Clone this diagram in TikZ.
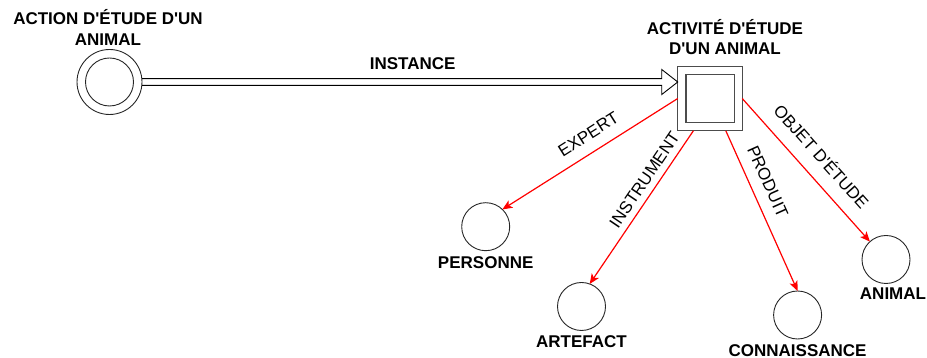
\documentclass[tikz,border=0pt]{standalone}
\usepackage{fontspec}
\setmainfont{Liberation Sans}
\usetikzlibrary{arrows.meta,calc}
\begin{document}
\begin{tikzpicture}[x=1pt,y=1pt,
  circ/.style={circle,draw=black!85,line width=0.9pt,inner sep=0pt,outer sep=0pt,minimum size=#1},
  sq/.style={rectangle,draw=black!70,line width=1.3pt,inner sep=0pt,outer sep=0pt,minimum size=#1},
  ttl/.style={font=\fontsize{17}{20.5}\selectfont\bfseries,align=center,inner sep=0pt,anchor=south},
  lbl/.style={font=\fontsize{17}{20}\selectfont\bfseries,inner sep=0pt,anchor=base},
  elbl/.style={font=\fontsize{17}{20}\selectfont,inner sep=0pt,sloped},
  rel/.style={draw=red,line width=1.2pt,-{Stealth[length=10pt,width=8.5pt,inset=2.5pt]}},
  inst/.style={draw=black,line width=0.9pt,line join=miter}]
\useasboundingbox (0,0) rectangle (927,358);
% nodes
\node[circ=65pt] (action) at (109.5,276) {};
\node[circ=48pt] (actionIn) at (action) {};
\node[sq=64.5pt] (activity) at (710,259.5) {};
\node[sq=48.3pt] (activityIn) at (activity) {};
\node[circ=48pt] (personne) at (485.7,131.3) {};
\node[circ=48pt] (artefact) at (581.5,51.5) {};
\node[circ=48pt] (connaissance) at (797.6,43) {};
\node[circ=48pt] (animal) at (886,98.5) {};
% titles and labels
\node[ttl] (actionT) at (108,312.5) {ACTION D\textquotesingle ÉTUDE D\textquotesingle UN\\ANIMAL};
\node[ttl] (activityT) at (725,303) {ACTIVITÉ D\textquotesingle ÉTUDE\\D\textquotesingle UN ANIMAL};
\node[lbl] (personneL) at ($(personne.south)+(0,-17.5)$) {PERSONNE};
\node[lbl] (artefactL) at ($(artefact.south)+(0,-17.5)$) {ARTEFACT};
\node[lbl] (connaissanceL) at ($(connaissance.south)+(0,-17.5)$) {CONNAISSANCE};
\node[lbl] (animalL) at ($(animal.south)+(7,-16.5)$) {ANIMAL};
% instance arrow (double line, open head)
\coordinate (tip) at (action -| activity.west);
\coordinate (hb) at ($(tip)+(-16,0)$);
\draw[inst] (action.6.8) -- (action.6.8 -| hb)
    node[lbl,pos=0.521,yshift=9.2pt] (instanceL) {INSTANCE}
  -- ($(hb)+(0,12.5)$) -- (tip) -- ($(hb)+(0,-12.5)$)
  -- (action.-6.8 -| hb) -- (action.-6.8);
% relations
\draw[rel] (activity.west) -- (personne.46)
  node[elbl,pos=0.456,above=11.2pt] (expertL) {EXPERT};
\draw[rel] ($(activity.south)+(-16.6,0)$) -- (artefact.70)
  node[elbl,pos=0.368,above=6.4pt] (instrumentL) {INSTRUMENT};
\draw[rel] ($(activity.south)+(15.8,0)$) -- (connaissance.north)
  node[elbl,pos=0.362,above=10.9pt] (produitL) {PRODUIT};
\draw[rel] (activity.east) -- (animal.132)
  node[elbl,pos=0.5,above=13.4pt] (objetL) {OBJET D\textquotesingle ÉTUDE};
\end{tikzpicture}
\end{document}
